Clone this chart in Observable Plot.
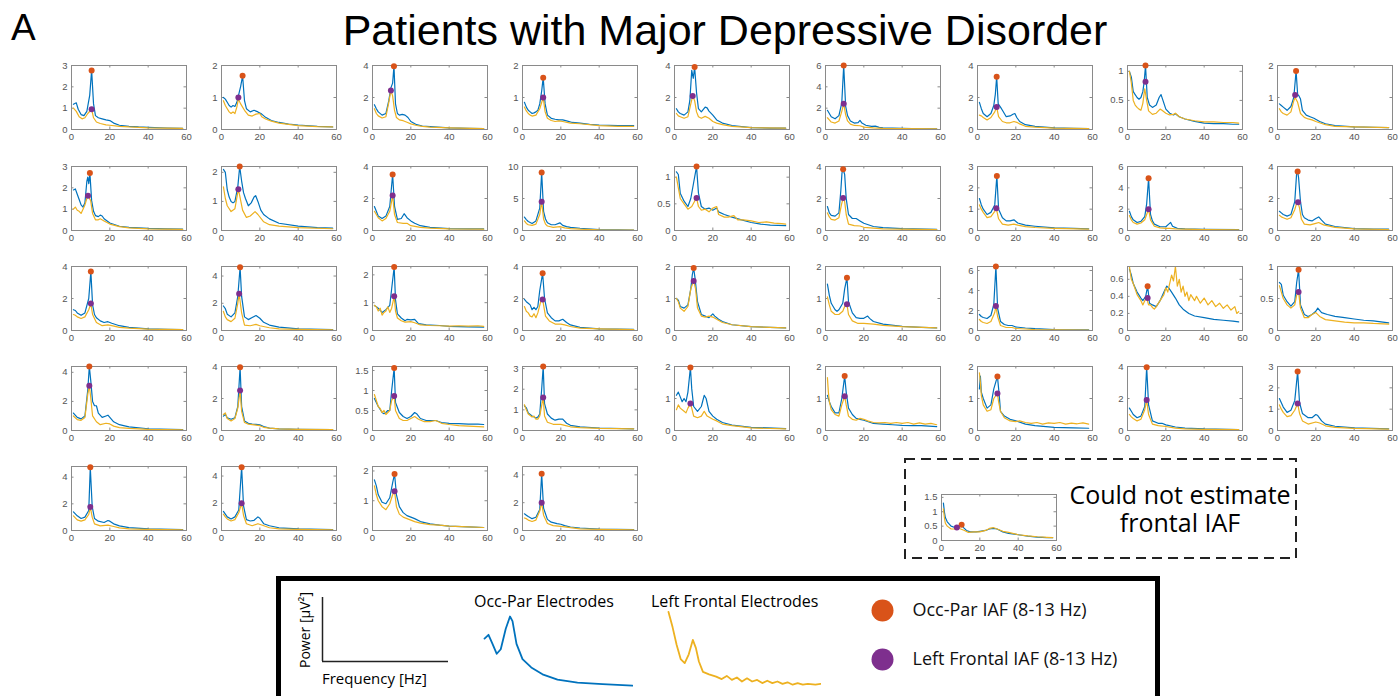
<!DOCTYPE html>
<html><head><meta charset="utf-8">
<script src="https://cdn.jsdelivr.net/npm/d3@7"></script>
<script src="https://cdn.jsdelivr.net/npm/@observablehq/plot@0.6"></script>
<style>
html,body{margin:0;padding:0;background:#fff;}
#root{position:relative;width:1400px;height:696px;overflow:hidden;font-family:"Liberation Sans",Arial,Helvetica,sans-serif;color:#000;}
.abs{position:absolute;white-space:nowrap;line-height:1;}
</style></head><body><div id="root"></div>
<script>
// ---------------- DATA ----------------
const titleText = "Patients with Major Depressive Disorder";
const panelLetter = "A";
const xTicks = [0, 20, 40, 60];

// y-axis upper limit of each panel (panels 1-40 in grid order, 41 = "could not estimate" panel)
const yMax = [3,2,4,2,4,6,4,1.1,2, 3,2.2,4,10,1.2,4,3,6,4, 4,4.7,2.3,4,2,2,6.4,0.75,1, 4.4,4,1.6,3.1,2,2,2,4,3, 4.8,4.7,2.15,4.6, 1.6];

const yTicks = [
  [0,1,2,3],[0,1,2],[0,2,4],[0,1,2],[0,2,4],[0,2,4,6],[0,2,4],[0,0.5,1],[0,1,2],
  [0,1,2,3],[0,1,2],[0,2,4],[0,5,10],[0,0.5,1],[0,2,4],[0,1,2,3],[0,2,4,6],[0,2,4],
  [0,2,4],[0,2,4],[0,1,2],[0,2,4],[0,1,2],[0,1,2],[0,2,4,6],[0,0.2,0.4,0.6],[0,0.5,1],
  [0,2,4],[0,2,4],[0,0.5,1,1.5],[0,1,2,3],[0,1,2],[0,1,2],[0,1,2],[0,2,4],[0,1,2,3],
  [0,2,4],[0,2,4],[0,1,2],[0,2,4],
  [0,0.5,1,1.5]
];

// Occipito-parietal IAF [Hz, power]
const occIAF = [
  [10.5,2.77],[11,1.68],[11.2,3.96],[10.8,1.62],[10.5,3.9],[9.5,6.0],[10,3.3],[9.4,1.1],[9.7,1.83],
  [9.6,2.69],[9.5,2.2],[10.5,3.5],[10,9.07],[11.5,1.2],[9.2,3.83],[10.1,2.56],[11,4.9],[10.5,3.69],
  [10.1,3.68],[9.7,4.65],[11.3,2.28],[10.5,3.58],[10,1.95],[11.2,1.65],[9.6,6.4],[10.5,0.52],[11,0.95],
  [9.3,4.4],[9.7,3.95],[11.3,1.56],[10.8,3.1],[8.3,1.97],[10,1.7],[10.4,1.69],[10,3.95],[10.5,2.76],
  [9.8,4.75],[10.5,4.65],[11.5,1.9],[10,4.07],
  [10.5,0.55]
];
// Left frontal IAF [Hz, power]
const frontIAF = [
  [10.5,0.95],[8.8,1.0],[9.6,2.44],[10.8,1.0],[9.5,2.1],[9.5,2.42],[10,1.4],[9.4,0.82],[9.2,1.08],
  [8.6,1.63],[8.8,1.42],[10.5,2.18],[10,4.5],[11.5,0.61],[9.2,2.03],[9.8,1.04],[11,2.0],[10.7,1.76],
  [10.1,1.68],[9.2,2.7],[11.3,1.23],[10.5,1.94],[10,1.55],[11.2,0.82],[9.6,2.44],[10.5,0.38],[11,0.6],
  [9.3,3.07],[9.7,2.5],[11.3,0.86],[10.8,1.6],[8.3,0.84],[10,1.07],[10.4,1.16],[10,1.9],[10.5,1.27],
  [9.8,1.76],[10.5,2.0],[11.5,1.32],[10,2.0],
  [8,0.45]
];

// Occ-Par spectra (blue): flattened pairs Hz, power
const blueSpectra = [
  [1,1.18, 2.5,1.25, 3.5,0.95, 5,0.7, 6.5,0.65, 8,0.85, 9.5,1.6, 10.5,2.77, 11.5,1.2, 12.5,0.65, 14,0.55, 16,0.5, 18,0.45, 20,0.42, 22,0.3, 25,0.2, 30,0.15, 35,0.12, 40,0.1, 50,0.07, 58,0.05],
  [1,1.0, 2,0.95, 3,0.85, 4,0.75, 5,0.7, 6,0.75, 7,0.72, 8,0.85, 9,1.1, 10,1.35, 11,1.68, 12,0.9, 13,0.65, 15,0.55, 17,0.6, 19,0.55, 21,0.48, 23,0.38, 26,0.28, 30,0.22, 35,0.17, 40,0.14, 50,0.1, 58,0.08],
  [1,1.55, 2,1.3, 3,1.1, 5,0.9, 7,1.0, 8.5,1.8, 9.6,2.6, 10.5,2.9, 11.2,3.96, 12,1.6, 13,1.0, 14,0.9, 15.5,0.95, 17,0.9, 18.5,0.75, 20,0.5, 23,0.3, 26,0.22, 30,0.18, 40,0.1, 50,0.07, 58,0.05],
  [1,0.85, 2,0.7, 3,0.6, 4,0.55, 5,0.5, 6,0.52, 7,0.55, 8,0.6, 9,0.8, 10,1.2, 10.8,1.62, 11.8,0.8, 13,0.45, 15,0.35, 17,0.32, 19,0.3, 21,0.3, 23,0.27, 26,0.22, 30,0.2, 35,0.16, 40,0.14, 50,0.12, 58,0.12],
  [1,1.3, 2,1.1, 3,1.0, 5,0.9, 7,1.1, 8,1.8, 9,3.7, 9.8,3.2, 10.5,3.9, 11.5,2.3, 12.5,1.3, 14,1.1, 16,1.4, 17,1.35, 18,1.15, 20,0.9, 22,0.6, 25,0.4, 30,0.25, 40,0.12, 50,0.09, 58,0.08],
  [1,1.8, 2,1.5, 3,1.2, 5,1.0, 7,1.3, 8.5,2.5, 9.5,6.0, 10.5,2.2, 11.5,1.3, 13,0.8, 15,0.6, 17,0.65, 18,0.85, 19,0.6, 21,0.4, 24,0.3, 26,0.32, 28,0.2, 30,0.15, 40,0.1, 50,0.07, 58,0.05],
  [1,1.7, 2,1.3, 3,1.0, 5,0.8, 7,1.0, 8.5,1.5, 9.3,2.2, 10,3.3, 10.8,1.6, 12,1.4, 13,1.2, 15,0.8, 17,0.85, 18.5,0.95, 19.5,1.0, 20.5,0.75, 22,0.5, 25,0.3, 30,0.2, 40,0.1, 50,0.07, 58,0.05],
  [1,1.0, 2,0.9, 3,0.65, 4,0.6, 5,0.55, 6,0.52, 7,0.55, 8,0.65, 8.7,0.82, 9.4,1.1, 10.3,0.55, 11.5,0.42, 13,0.38, 15,0.42, 16.5,0.55, 17.5,0.6, 18.5,0.5, 20,0.35, 22,0.28, 24,0.25, 25,0.27, 27,0.22, 30,0.18, 35,0.14, 40,0.11, 45,0.1, 50,0.1, 55,0.09, 58,0.09],
  [1,0.8, 2,0.75, 3,0.7, 5,0.6, 7,0.72, 8.5,1.0, 9.7,1.83, 10.5,1.1, 11.2,1.05, 12,0.95, 13,0.6, 15,0.45, 17,0.4, 19,0.35, 22,0.25, 25,0.18, 30,0.12, 40,0.08, 50,0.07, 58,0.06],
  [1,1.9, 2,1.95, 3,1.7, 4,1.45, 5,1.2, 6,1.1, 7,1.3, 8,2.3, 8.5,2.5, 9,2.2, 9.6,2.69, 10.5,1.4, 11.5,0.9, 12.5,0.7, 14,0.65, 15,0.72, 16,0.68, 17,0.55, 20,0.35, 25,0.2, 30,0.15, 40,0.1, 50,0.08, 58,0.07],
  [1,2.1, 2,2.0, 3,1.4, 4,1.15, 5,1.0, 6,0.95, 7,1.0, 8.5,1.5, 9.5,2.2, 10.5,1.7, 11.5,1.3, 12.5,1.1, 14,0.85, 15.5,0.95, 17,1.15, 17.8,1.2, 19,1.0, 20.5,0.7, 22,0.55, 25,0.4, 30,0.25, 40,0.15, 50,0.1, 58,0.08],
  [1,1.5, 2,1.2, 3,0.9, 5,0.75, 7,0.9, 9,1.5, 10.5,3.5, 11.5,1.5, 13,0.7, 15,0.75, 16.5,1.05, 18,0.8, 20,0.6, 22,0.45, 25,0.3, 30,0.2, 40,0.12, 50,0.1, 58,0.1],
  [1,2.1, 2,1.7, 3,1.4, 5,1.1, 7,1.5, 9,3.5, 10,9.07, 11,3.0, 12,1.8, 13,1.2, 15,0.9, 17,0.9, 19.5,1.2, 21,0.8, 23,0.6, 25,0.5, 30,0.35, 40,0.15, 50,0.1, 58,0.08],
  [1,1.1, 2,1.05, 3,0.7, 5,0.55, 7,0.45, 8.5,0.6, 10,0.9, 11,1.1, 11.5,1.2, 12.5,0.7, 14,0.45, 16,0.4, 18,0.42, 20,0.38, 22,0.42, 23,0.35, 26,0.3, 30,0.25, 35,0.2, 40,0.15, 45,0.12, 50,0.1, 58,0.09],
  [1,1.5, 2,1.1, 3,0.95, 5,0.9, 7,1.1, 8,2.5, 8.6,3.6, 9.2,3.83, 10,3.5, 10.8,2.0, 12,1.0, 14,0.75, 16,0.75, 18,0.6, 20,0.45, 25,0.25, 30,0.18, 40,0.12, 58,0.07],
  [1,1.5, 2,1.2, 3,1.0, 5,0.75, 7,0.85, 9,1.2, 10.1,2.56, 11,1.0, 13,0.6, 15,0.45, 17,0.45, 19,0.5, 21,0.35, 25,0.25, 30,0.2, 40,0.12, 50,0.1, 58,0.08],
  [1,1.8, 2,1.3, 3,1.0, 5,0.75, 7,0.85, 9,1.3, 10,2.5, 11,4.9, 12,1.5, 13,0.9, 14,0.6, 17,0.35, 20,0.35, 21.5,0.6, 22.5,0.75, 23.5,0.4, 26,0.2, 30,0.15, 40,0.1, 58,0.08],
  [1,1.2, 2,1.1, 3,1.0, 5,0.9, 7,1.0, 9,1.8, 10,3.6, 10.5,3.69, 11,3.3, 12,1.8, 13,1.0, 14,0.8, 16,0.65, 18,0.6, 20,0.75, 21.5,0.85, 23,0.65, 25,0.4, 30,0.25, 40,0.12, 50,0.09, 58,0.08],
  [1,1.3, 2,1.25, 3,1.1, 5,0.95, 7,1.1, 9,2.0, 10.1,3.68, 11,1.6, 12,1.0, 13,0.8, 15,0.6, 17,0.5, 19,0.55, 21,0.45, 25,0.3, 30,0.2, 40,0.1, 50,0.07, 58,0.06],
  [1,1.8, 2,1.6, 3,1.2, 5,1.0, 7,1.3, 8.5,2.5, 9,3.4, 9.7,4.65, 10.5,2.5, 12,1.0, 14,0.8, 16,0.95, 18,1.1, 20,0.9, 22,0.6, 25,0.4, 30,0.25, 40,0.12, 58,0.06],
  [1,0.9, 2,0.85, 3,0.8, 5,0.65, 7,0.75, 9,0.9, 10,1.5, 11.3,2.28, 12,1.1, 13,0.6, 15,0.45, 17,0.35, 18,0.4, 20,0.38, 22,0.4, 24,0.25, 28,0.2, 35,0.18, 40,0.15, 50,0.13, 58,0.12],
  [1,1.95, 2,1.8, 3,1.7, 4,1.6, 5,1.3, 6,1.45, 7,1.3, 8,1.5, 9,2.5, 10.5,3.58, 11.5,2.0, 13,1.1, 15,0.8, 17,0.6, 19,0.6, 21,0.7, 23,0.5, 25,0.35, 30,0.2, 40,0.1, 58,0.07],
  [1,1.0, 2,0.95, 3,0.75, 5,0.7, 7,0.8, 8.5,1.3, 9.3,1.75, 10,1.95, 10.8,1.6, 12,0.9, 14,0.5, 16,0.45, 18,0.4, 20,0.52, 21,0.45, 23,0.35, 25,0.28, 30,0.18, 40,0.12, 58,0.08],
  [1,1.45, 2,1.1, 3,0.85, 5,0.65, 6,0.6, 7,0.65, 9,0.85, 10,1.3, 11.2,1.65, 12,0.9, 14,0.55, 16,0.4, 18,0.38, 20,0.38, 22,0.45, 23,0.38, 25,0.28, 30,0.2, 40,0.13, 50,0.1, 58,0.08],
  [1,1.6, 2,1.4, 3,1.3, 5,1.2, 7,1.5, 8.5,2.6, 9.6,6.4, 10.5,2.2, 12,0.9, 14,0.6, 16,0.5, 18,0.5, 20,0.35, 25,0.25, 30,0.18, 40,0.1, 58,0.06],
  [1,0.72, 2,0.65, 3,0.55, 5,0.45, 7,0.38, 8,0.35, 9.5,0.4, 10.5,0.52, 11.5,0.32, 13,0.3, 15,0.28, 17,0.35, 19,0.45, 20.5,0.52, 21.5,0.5, 23,0.45, 25,0.38, 27,0.3, 29,0.25, 32,0.2, 35,0.17, 40,0.15, 45,0.13, 50,0.12, 55,0.11, 58,0.1],
  [1,0.75, 2,0.72, 3,0.55, 5,0.45, 7,0.38, 9,0.45, 10,0.75, 11,0.95, 12,0.4, 14,0.25, 16,0.22, 18,0.25, 20,0.3, 21,0.35, 23,0.28, 26,0.25, 30,0.22, 35,0.2, 40,0.18, 45,0.16, 50,0.15, 55,0.13, 58,0.12],
  [1,1.2, 3,0.9, 5,0.8, 7,1.0, 8.5,2.8, 9.3,4.4, 10,3.5, 11,2.0, 12,1.7, 13,1.7, 14,1.2, 16,0.9, 18,1.0, 19,1.05, 20,0.9, 22,0.6, 25,0.4, 30,0.25, 40,0.12, 58,0.06],
  [1,0.9, 2,1.0, 3,0.8, 5,0.7, 7,0.8, 8.5,1.5, 9.7,3.95, 10.5,1.5, 12,0.6, 14,0.45, 16,0.4, 18,0.38, 20,0.35, 22,0.25, 25,0.15, 30,0.1, 40,0.07, 58,0.05],
  [1,0.8, 2,0.7, 3,0.6, 5,0.45, 6,0.42, 7,0.45, 8,0.5, 9,0.5, 10,1.0, 11.3,1.56, 12,0.7, 14,0.45, 16,0.35, 18,0.3, 20,0.35, 22,0.45, 23,0.42, 25,0.3, 28,0.25, 30,0.25, 33,0.25, 36,0.2, 40,0.18, 45,0.17, 50,0.16, 55,0.16, 58,0.15],
  [1,1.2, 2,1.1, 3,0.85, 5,0.7, 6,0.65, 7,0.6, 8,0.65, 9,0.8, 10,2.0, 10.8,3.1, 11.5,1.3, 13,0.8, 15,0.6, 17,0.5, 19,0.55, 21,0.55, 23,0.35, 25,0.25, 30,0.18, 40,0.12, 58,0.08],
  [1,1.1, 2,1.2, 3,1.05, 4,0.9, 5,1.0, 6,0.9, 7,1.2, 8.3,1.97, 9,1.3, 10,0.75, 12,0.6, 14,0.75, 15.5,1.1, 16.5,1.0, 18,0.6, 20,0.45, 22,0.35, 25,0.25, 30,0.17, 40,0.1, 58,0.06],
  [1,1.1, 2,0.9, 3,0.75, 5,0.55, 7,0.55, 8.5,1.0, 10,1.7, 10.8,1.2, 12,0.7, 14,0.5, 16,0.38, 18,0.35, 20,0.32, 25,0.22, 30,0.2, 35,0.18, 40,0.16, 45,0.15, 50,0.15, 58,0.12],
  [1,1.3, 1.5,1.7, 2,1.2, 3,1.0, 5,0.7, 7,0.8, 8.5,1.3, 10.4,1.69, 11.2,1.2, 12,0.6, 14,0.45, 17,0.35, 20,0.3, 25,0.2, 30,0.15, 40,0.1, 50,0.08, 58,0.07],
  [1,1.4, 2,1.2, 3,1.0, 5,0.8, 7,0.9, 9,1.5, 10,3.95, 11,1.6, 13,0.6, 16,0.45, 18,0.45, 20,0.35, 25,0.22, 30,0.15, 40,0.1, 58,0.06],
  [1,1.5, 2,1.3, 3,1.1, 5,0.85, 7,0.95, 9,1.4, 10.5,2.76, 11.5,1.3, 13,0.8, 16,0.6, 18,0.6, 20,0.75, 21,0.7, 23,0.45, 25,0.3, 30,0.2, 40,0.12, 58,0.08],
  [1,1.4, 2,1.25, 3,1.1, 5,0.9, 7,1.0, 9,1.5, 9.8,4.75, 10.8,1.8, 12,0.9, 14,0.7, 17,0.6, 19,0.75, 20,0.7, 22,0.5, 25,0.35, 30,0.22, 40,0.12, 58,0.07],
  [1,1.4, 2,1.2, 3,1.0, 5,0.85, 7,1.0, 9,1.5, 10.5,4.65, 11.5,1.8, 13,0.8, 15,0.7, 17,0.75, 19,1.0, 20,0.9, 22,0.5, 25,0.35, 30,0.2, 40,0.12, 58,0.07],
  [1,1.7, 2,1.5, 3,1.2, 5,0.95, 7,0.9, 9,1.1, 10.5,1.6, 11.5,1.9, 12.5,1.2, 14,0.8, 16,0.6, 18,0.5, 20,0.45, 22,0.4, 25,0.3, 30,0.22, 35,0.18, 40,0.15, 50,0.12, 58,0.1],
  [1,1.2, 2,1.1, 3,1.0, 5,0.85, 7,0.95, 9,1.5, 10,4.07, 11,1.6, 13,0.8, 15,0.6, 18,0.5, 20,0.45, 22,0.35, 25,0.25, 30,0.18, 40,0.1, 58,0.06],
  [1,1.3, 1.5,1.0, 2,0.8, 3,0.65, 5,0.5, 7,0.45, 8,0.42, 9,0.45, 10.5,0.55, 11.5,0.45, 13,0.35, 15,0.3, 18,0.3, 20,0.32, 23,0.35, 25,0.4, 27,0.42, 29,0.4, 32,0.3, 35,0.25, 40,0.2, 45,0.15, 50,0.12, 55,0.1, 58,0.1]
];

// Left frontal spectra (yellow): flattened pairs Hz, power
const yellowSpectra = [
  [1,1.0, 2.5,0.85, 4,0.6, 5.5,0.5, 7,0.55, 8.5,0.75, 10.5,0.95, 11.5,0.55, 13,0.35, 15,0.28, 18,0.22, 20,0.2, 25,0.15, 30,0.12, 40,0.08, 58,0.05],
  [1,0.9, 2,0.75, 3,0.65, 4,0.55, 5,0.5, 6,0.55, 7,0.5, 8,0.7, 8.8,0.95, 10,0.8, 11,0.7, 12,0.6, 14,0.45, 16,0.42, 18,0.48, 20,0.5, 21,0.4, 23,0.33, 26,0.26, 30,0.2, 40,0.12, 50,0.09, 58,0.08],
  [1,1.3, 2,1.0, 3,0.85, 5,0.72, 7,0.8, 8.5,1.7, 9.6,2.44, 10.5,2.1, 11.5,1.2, 12.5,0.75, 14,0.6, 16,0.55, 18,0.45, 20,0.35, 23,0.25, 26,0.2, 30,0.15, 40,0.1, 58,0.05],
  [1,0.7, 2,0.58, 3,0.5, 4,0.45, 5,0.42, 7,0.45, 9,0.65, 10.8,1.0, 11.8,0.55, 13,0.35, 15,0.28, 17,0.25, 19,0.27, 21,0.25, 25,0.2, 30,0.18, 40,0.12, 50,0.1, 58,0.1],
  [1,1.0, 2,0.85, 3,0.8, 5,0.7, 7,0.8, 8.5,1.6, 9.5,2.1, 10.5,1.8, 11.5,1.1, 12.5,0.8, 14,0.7, 16,0.82, 18,0.7, 20,0.5, 22,0.4, 25,0.3, 30,0.2, 40,0.12, 58,0.08],
  [1,1.1, 2,0.9, 3,0.7, 5,0.6, 7,0.8, 8.5,1.7, 9.5,2.42, 10.5,1.4, 11.5,0.8, 13,0.5, 15,0.38, 18,0.35, 20,0.22, 25,0.15, 30,0.1, 40,0.08, 58,0.05],
  [1,0.9, 2,0.85, 3,0.75, 5,0.6, 7,0.75, 9,1.1, 10,1.4, 11,0.8, 13,0.5, 15,0.42, 17,0.42, 19,0.5, 20.5,0.45, 22,0.35, 25,0.2, 30,0.15, 40,0.08, 58,0.05],
  [1,1.0, 2,0.8, 3,0.5, 4,0.42, 5,0.38, 6,0.35, 7,0.33, 8,0.45, 9,0.7, 10,0.5, 11,0.32, 13,0.26, 15,0.28, 17,0.35, 18,0.33, 20,0.28, 22,0.25, 24,0.26, 25,0.28, 27,0.22, 30,0.18, 35,0.15, 40,0.13, 45,0.13, 50,0.12, 55,0.12, 58,0.11],
  [1,0.65, 2,0.55, 3,0.5, 5,0.45, 7,0.55, 8.5,0.9, 9.2,1.0, 10.5,0.85, 12,0.5, 14,0.38, 16,0.33, 18,0.3, 20,0.25, 25,0.15, 30,0.1, 40,0.08, 58,0.06],
  [1,1.0, 2,1.1, 3,0.95, 4,0.9, 5,0.8, 6,1.0, 7,1.2, 8,1.5, 8.6,1.63, 10,1.4, 11,0.8, 12.5,0.5, 14,0.5, 15,0.55, 17,0.45, 20,0.3, 25,0.18, 30,0.12, 40,0.08, 58,0.05],
  [1,1.5, 2,1.1, 3,0.85, 5,0.65, 7,0.75, 8.8,1.42, 9.5,1.2, 11,0.7, 13,0.45, 15,0.5, 17.5,0.65, 19,0.55, 22,0.3, 25,0.2, 30,0.15, 40,0.1, 58,0.06],
  [1,1.2, 2,1.0, 3,0.8, 5,0.6, 7,0.75, 9,1.2, 10.5,2.18, 11.5,1.0, 13,0.5, 16,0.45, 18,0.45, 20,0.3, 25,0.2, 30,0.15, 40,0.1, 58,0.08],
  [1,1.5, 2,1.1, 3,0.9, 5,0.8, 7,1.0, 9,2.5, 10,4.5, 11,1.8, 12,1.0, 13,0.7, 16,0.5, 19.5,0.6, 22,0.4, 25,0.3, 30,0.2, 40,0.1, 58,0.06],
  [1,1.0, 2,0.8, 3,0.6, 5,0.5, 7,0.4, 9,0.45, 10.5,0.55, 11.5,0.61, 12.5,0.45, 14,0.38, 16,0.4, 18,0.35, 20,0.42, 22,0.45, 23,0.3, 26,0.25, 28,0.25, 31,0.28, 33,0.2, 36,0.2, 40,0.18, 44,0.15, 48,0.16, 52,0.14, 56,0.13, 58,0.12],
  [1,1.1, 2,0.85, 3,0.7, 5,0.65, 7,0.8, 8.3,1.6, 9.2,2.03, 10,1.8, 10.8,1.0, 12,0.4, 15,0.3, 18,0.28, 20,0.2, 25,0.15, 30,0.1, 40,0.08, 58,0.05],
  [1,1.2, 2,1.0, 3,0.85, 5,0.6, 7,0.65, 9,0.9, 9.8,1.04, 11,0.55, 13,0.3, 16,0.25, 19,0.3, 21,0.25, 25,0.18, 30,0.14, 40,0.1, 58,0.06],
  [1,1.4, 2,1.0, 3,0.75, 5,0.6, 7,0.7, 9,1.0, 10,1.5, 11,2.0, 12,1.0, 14,0.4, 17,0.25, 20,0.2, 22,0.2, 25,0.15, 30,0.12, 40,0.08, 58,0.06],
  [1,0.95, 2,0.85, 3,0.8, 5,0.7, 7,0.8, 9,1.3, 10,1.7, 10.7,1.76, 11.5,1.4, 12.5,0.7, 14,0.4, 17,0.35, 20,0.45, 21.5,0.5, 24,0.35, 30,0.2, 40,0.1, 58,0.06],
  [1,1.0, 2,0.95, 3,0.85, 5,0.75, 7,0.85, 9,1.3, 10.1,1.68, 11,1.0, 13,0.5, 16,0.3, 19,0.35, 21,0.3, 25,0.2, 30,0.15, 40,0.08, 58,0.05],
  [1,1.4, 2,1.0, 3,0.8, 5,0.65, 7,0.9, 8.5,2.0, 9.2,2.7, 10.5,1.3, 12,0.4, 15,0.35, 18,0.45, 20,0.35, 25,0.2, 30,0.12, 40,0.08, 58,0.05],
  [1,0.9, 2,0.85, 3,0.7, 4,0.8, 5,0.55, 6,0.65, 7,0.7, 8,0.85, 9,0.65, 10,0.8, 11.3,1.23, 12,0.7, 13,0.45, 15,0.35, 17,0.3, 20,0.32, 22,0.28, 25,0.2, 30,0.18, 35,0.17, 40,0.16, 45,0.17, 50,0.16, 55,0.17, 58,0.15],
  [1,1.5, 2,1.2, 3,1.1, 4,0.9, 5,0.85, 6,1.05, 7,0.8, 8,1.1, 9.5,1.8, 10.5,1.94, 12,0.9, 14,0.6, 17,0.4, 20,0.4, 22,0.35, 25,0.25, 30,0.15, 40,0.1, 58,0.05],
  [1,1.0, 2,0.9, 3,0.7, 5,0.6, 7,0.75, 8.5,1.3, 10,1.55, 11,1.3, 12,0.7, 14,0.45, 16,0.42, 18,0.45, 20,0.42, 22,0.35, 25,0.25, 30,0.18, 40,0.12, 58,0.08],
  [1,1.05, 2,0.8, 3,0.6, 5,0.5, 7,0.5, 9,0.6, 10,0.75, 11.2,0.82, 12,0.5, 14,0.3, 17,0.22, 20,0.22, 25,0.2, 30,0.16, 40,0.12, 58,0.08],
  [1,1.1, 2,0.9, 3,0.8, 5,0.7, 7,0.9, 9,1.8, 9.6,2.44, 10.5,1.4, 12,0.5, 15,0.3, 18,0.3, 20,0.2, 25,0.15, 30,0.1, 40,0.07, 58,0.04],
  [1,0.75, 2,0.6, 3,0.55, 5,0.42, 7,0.35, 8,0.3, 9,0.35, 10,0.38, 11,0.3, 12,0.3, 13,0.27, 14,0.25, 15,0.28, 17,0.35, 19,0.42, 20,0.5, 21,0.45, 22,0.55, 23,0.65, 24,0.58, 25,0.75, 26,0.52, 27,0.6, 28,0.45, 29,0.52, 30,0.4, 31,0.45, 32,0.35, 33,0.42, 35,0.35, 36,0.4, 38,0.32, 40,0.38, 42,0.3, 44,0.35, 46,0.28, 48,0.32, 50,0.26, 52,0.3, 54,0.24, 56,0.28, 57,0.2, 58,0.22],
  [1,0.7, 2,0.6, 3,0.5, 5,0.4, 7,0.35, 9,0.4, 10,0.55, 11,0.6, 12,0.35, 14,0.2, 16,0.2, 18,0.25, 20,0.28, 22,0.22, 25,0.17, 30,0.15, 35,0.13, 40,0.12, 45,0.12, 50,0.11, 58,0.1],
  [1,1.0, 3,0.75, 5,0.7, 7,0.9, 8.5,2.5, 9.3,3.07, 10,2.3, 11,1.0, 13,0.6, 15,0.4, 18,0.5, 20,0.45, 22,0.3, 25,0.2, 30,0.15, 40,0.08, 58,0.05],
  [1,1.0, 2,1.1, 3,0.75, 5,0.6, 7,0.75, 8.5,1.4, 9.7,2.5, 10.5,1.2, 12,0.5, 14,0.4, 17,0.35, 20,0.3, 22,0.2, 25,0.15, 30,0.1, 40,0.07, 58,0.05],
  [1,0.9, 2,0.75, 3,0.6, 4,0.55, 5,0.45, 6,0.5, 7,0.4, 8,0.45, 9,0.5, 10,0.75, 11.3,0.86, 12,0.5, 14,0.3, 16,0.25, 18,0.25, 20,0.3, 22,0.35, 24,0.28, 27,0.22, 30,0.22, 33,0.25, 36,0.18, 40,0.15, 45,0.12, 50,0.11, 58,0.09],
  [1,1.25, 2,1.0, 3,0.8, 5,0.65, 6,0.7, 7,0.55, 8,0.55, 9,0.7, 10,1.2, 10.8,1.6, 11.5,0.7, 13,0.4, 16,0.3, 20,0.3, 22,0.25, 25,0.18, 30,0.14, 40,0.1, 58,0.08],
  [1,0.65, 2,0.8, 3,0.7, 5,0.6, 6,0.55, 7,0.7, 8.3,0.84, 9,0.7, 10,0.45, 12,0.4, 14,0.45, 15.5,0.6, 17,0.45, 20,0.35, 22,0.3, 25,0.2, 30,0.15, 40,0.08, 58,0.05],
  [1,1.65, 1.5,1.2, 2,0.9, 3,0.65, 5,0.5, 7,0.45, 8.5,0.8, 10,1.07, 10.8,0.8, 12,0.45, 14,0.35, 16,0.32, 18,0.38, 20,0.35, 22,0.3, 25,0.25, 28,0.24, 31,0.25, 34,0.22, 37,0.25, 40,0.22, 43,0.25, 46,0.2, 49,0.24, 52,0.2, 55,0.22, 58,0.18],
  [1,1.8, 1.5,1.5, 2,1.1, 3,0.8, 5,0.6, 7,0.65, 8.5,1.0, 10.4,1.16, 11,0.9, 12,0.6, 14,0.4, 17,0.3, 20,0.28, 22,0.3, 25,0.25, 28,0.22, 31,0.25, 34,0.2, 37,0.24, 40,0.22, 43,0.25, 46,0.2, 49,0.23, 52,0.21, 55,0.24, 58,0.2],
  [1,1.0, 2,0.85, 3,0.75, 5,0.6, 7,0.7, 9,1.3, 10,1.9, 11,1.0, 13,0.4, 16,0.3, 20,0.25, 25,0.15, 30,0.1, 40,0.07, 58,0.05],
  [1,1.2, 2,1.0, 3,0.85, 5,0.65, 7,0.7, 9,0.95, 10.5,1.27, 11.5,0.8, 13,0.45, 16,0.3, 20,0.4, 22,0.35, 25,0.22, 30,0.15, 40,0.1, 58,0.06],
  [1,1.1, 2,0.95, 3,0.8, 5,0.7, 7,0.8, 9,1.2, 9.8,1.76, 10.8,1.0, 12,0.5, 15,0.35, 19,0.4, 22,0.3, 25,0.2, 30,0.12, 40,0.08, 58,0.05],
  [1,1.2, 2,1.0, 3,0.85, 5,0.7, 7,0.8, 9,1.3, 10.5,2.0, 11.5,1.1, 13,0.5, 16,0.35, 19,0.5, 21,0.4, 25,0.2, 30,0.12, 40,0.08, 58,0.05],
  [1,1.5, 2,1.2, 3,1.0, 5,0.8, 7,0.7, 9,0.9, 10.5,1.2, 11.5,1.32, 12.5,0.8, 14,0.55, 16,0.45, 18,0.4, 20,0.35, 22,0.3, 25,0.25, 30,0.2, 35,0.18, 40,0.15, 50,0.12, 58,0.1],
  [1,0.9, 2,0.85, 3,0.75, 5,0.65, 7,0.75, 9,1.4, 10,2.0, 11,1.1, 13,0.5, 16,0.35, 20,0.3, 25,0.2, 30,0.12, 40,0.08, 58,0.05],
  [1,1.1, 1.5,0.8, 2,0.6, 3,0.5, 5,0.4, 7,0.4, 8,0.45, 10,0.4, 12,0.35, 14,0.28, 17,0.3, 20,0.3, 23,0.35, 25,0.42, 27,0.45, 29,0.4, 32,0.32, 35,0.28, 40,0.2, 45,0.16, 50,0.13, 55,0.11, 58,0.1]
];

// legend sketches (relative frequency 0-60, relative power 0-1)
const legendBlue = [0.8,0.67, 2.4,0.72, 4,0.6, 5.7,0.47, 7.3,0.53, 9.3,0.8, 11,0.96, 12,0.9, 13.6,0.6, 16,0.4, 19.5,0.29, 24,0.2, 30,0.13, 38,0.09, 48,0.07, 60,0.05];
const legendYellow = [0,0.97, 1.6,0.78, 3.2,0.56, 4.8,0.38, 6.4,0.33, 8,0.44, 9.6,0.62, 10.8,0.52, 12,0.35, 13.6,0.22, 16,0.19, 18.8,0.16, 21,0.13, 23,0.17, 25,0.12, 27,0.15, 29,0.1, 31,0.14, 33,0.1, 35,0.12, 37,0.08, 39,0.11, 41,0.08, 43,0.1, 45,0.07, 47,0.09, 49,0.06, 51,0.08, 53,0.06, 55,0.07, 58,0.06, 60,0.07];
const legendSeries = ["Occ-Par Electrodes", "Left Frontal Electrodes"];
const legendIAF = ["Occ-Par IAF (8-13 Hz)", "Left Frontal IAF (8-13 Hz)"];
const legendAxes = ["Power [\u03BCV\u00B2]", "Frequency [Hz]"];
const noteLines = ["Could not estimate", "frontal IAF"];

// ---------------- STYLE / LAYOUT ----------------
const BLUE = "#0072BD", YELLOW = "#EDB120", ORANGE = "#D95319", PURPLE = "#7E2F8E";
const AXC = "#8a8a8a", TXC = "#555";
const FONT = "'Liberation Sans', Arial, Helvetica, sans-serif";
const LFONT = "'Open Sans', 'Liberation Sans', Arial, sans-serif";
const colLeft = [71, 221, 372, 522, 674, 825, 977, 1127, 1277];
const rowTop = [65, 166, 266, 366, 466];
const FW = 115, FH = 64;

const root = document.getElementById("root");
function pairs(flat) { const out = []; for (let i = 0; i < flat.length; i += 2) out.push({f: flat[i], v: flat[i + 1]}); return out; }
function place(el, left, top) { el.style.position = "absolute"; el.style.left = left + "px"; el.style.top = top + "px"; el.style.maxWidth = "none"; root.appendChild(el); }
function text(str, left, top, size, extra) {
  const d = document.createElement("div"); d.className = "abs"; d.textContent = str;
  d.style.left = left + "px"; d.style.top = top + "px"; d.style.fontSize = size + "px";
  if (extra) Object.assign(d.style, extra);
  root.appendChild(d); return d;
}

function drawPanel(k, fx, fy, fw, fh) {
  const ML = 24, MT = 3, MR = 3, MB = 16;
  const yt = yTicks[k];
  const chart = Plot.plot({
    width: fw + ML + MR, height: fh + MT + MB,
    marginLeft: ML, marginTop: MT, marginRight: MR, marginBottom: MB,
    style: {fontFamily: FONT, fontSize: "9.5px", color: TXC, background: "transparent", overflow: "visible"},
    x: {domain: [0, 60], label: null},
    y: {domain: [0, yMax[k]], label: null},
    marks: [
      Plot.axisX(xTicks, {tickSize: 0, tickPadding: 4, label: null, tickFormat: d => String(d), fill: TXC}),
      Plot.axisY(yt, {tickSize: 0, tickPadding: 4, label: null, tickFormat: d => String(d), fill: TXC}),
      Plot.tickX(xTicks, {x: d => d, insetTop: fh - 2.5, stroke: AXC}),
      Plot.tickX(xTicks, {x: d => d, insetBottom: fh - 2.5, stroke: AXC}),
      Plot.tickY(yt, {y: d => d, insetRight: fw - 2.5, stroke: AXC}),
      Plot.tickY(yt, {y: d => d, insetLeft: fw - 2.5, stroke: AXC}),
      Plot.line(pairs(blueSpectra[k]), {x: "f", y: "v", stroke: BLUE, strokeWidth: 1.2, clip: true}),
      Plot.line(pairs(yellowSpectra[k]), {x: "f", y: "v", stroke: YELLOW, strokeWidth: 1.2, clip: true}),
      Plot.frame({stroke: AXC}),
      Plot.dot([occIAF[k]], {x: d => d[0], y: d => d[1], r: 3, fill: ORANGE, stroke: "none"}),
      Plot.dot([frontIAF[k]], {x: d => d[0], y: d => d[1], r: 3, fill: PURPLE, stroke: "none"})
    ]
  });
  place(chart, fx - ML, fy - MT);
}

// title + letter
text(panelLetter, 11, 9, 37);
text(titleText, 225, 9, 43, {width: "1000px", textAlign: "center"});

// grid of panels
for (let k = 0; k < 40; k++) {
  drawPanel(k, colLeft[k % 9], rowTop[Math.floor(k / 9)], FW, FH);
}

// dashed box with special panel
const ns = "http://www.w3.org/2000/svg";
const dash = document.createElementNS(ns, "svg");
dash.setAttribute("width", 396); dash.setAttribute("height", 104);
dash.innerHTML = '<rect x="2" y="2" width="391" height="99" fill="none" stroke="#222" stroke-width="2" stroke-dasharray="10,6"/>';
place(dash, 903, 457);
drawPanel(40, 941, 494, 115, 46);
const note = text(noteLines.join("\n"), 1054, 480, 25, {fontFamily: LFONT, width: "252px", textAlign: "center", whiteSpace: "pre", lineHeight: "28px"});

// legend box
const box = document.createElement("div");
Object.assign(box.style, {position: "absolute", left: "276px", top: "576px", width: "884px", height: "140px", border: "5px solid #000", boxSizing: "border-box"});
root.appendChild(box);

// axis icon
const axIcon = Plot.plot({
  width: 128, height: 66, marginLeft: 2, marginBottom: 2, marginTop: 0, marginRight: 0,
  style: {background: "transparent"},
  x: {domain: [0, 1], axis: null}, y: {domain: [0, 1], axis: null},
  marks: [Plot.ruleX([0], {stroke: "#222", strokeWidth: 1.5}), Plot.ruleY([0], {stroke: "#222", strokeWidth: 1.5})]
});
place(axIcon, 320, 597);
text(legendAxes[0], 305, 630, 14, {fontFamily: LFONT, transform: "translate(-50%,-50%) rotate(-90deg)", transformOrigin: "center"});
text(legendAxes[1], 322, 671, 15, {fontFamily: LFONT});

// legend sketches
function sketch(flat, color, left, top, w, h) {
  const c = Plot.plot({
    width: w, height: h, margin: 1,
    style: {background: "transparent"},
    x: {domain: [0, 60], axis: null}, y: {domain: [0, 1], axis: null},
    marks: [Plot.line(pairs(flat), {x: "f", y: "v", stroke: color, strokeWidth: 1.8})]
  });
  place(c, left, top);
}
text(legendSeries[0], 474, 593, 16, {fontFamily: LFONT});
text(legendSeries[1], 651, 593, 16, {fontFamily: LFONT});
sketch(legendBlue, BLUE, 481, 612, 152, 78);
sketch(legendYellow, YELLOW, 667, 608, 154, 82);

// IAF dot legend
const iafRows = legendIAF.map((label, i) => ({label, color: i === 0 ? ORANGE : PURPLE}));
const iafChart = Plot.plot({
  width: 300, height: 104, marginLeft: 16, marginRight: 0, marginTop: 0, marginBottom: 0,
  style: {background: "transparent", fontFamily: LFONT, fontSize: "18px", color: "#111"},
  x: {domain: [0, 1], axis: null},
  y: {type: "band", domain: legendIAF, axis: null},
  marks: [
    Plot.dot(iafRows.filter((d, i) => i === 0), {x: () => 0, y: "label", r: 11, fill: ORANGE, stroke: "none"}),
    Plot.dot(iafRows.filter((d, i) => i === 1), {x: () => 0, y: "label", r: 11, fill: PURPLE, stroke: "none"}),
    Plot.text(iafRows, {x: () => 0, y: "label", text: "label", dx: 30, textAnchor: "start", fill: "#111"})
  ]
});
place(iafChart, 866, 583);
</script></body></html>
